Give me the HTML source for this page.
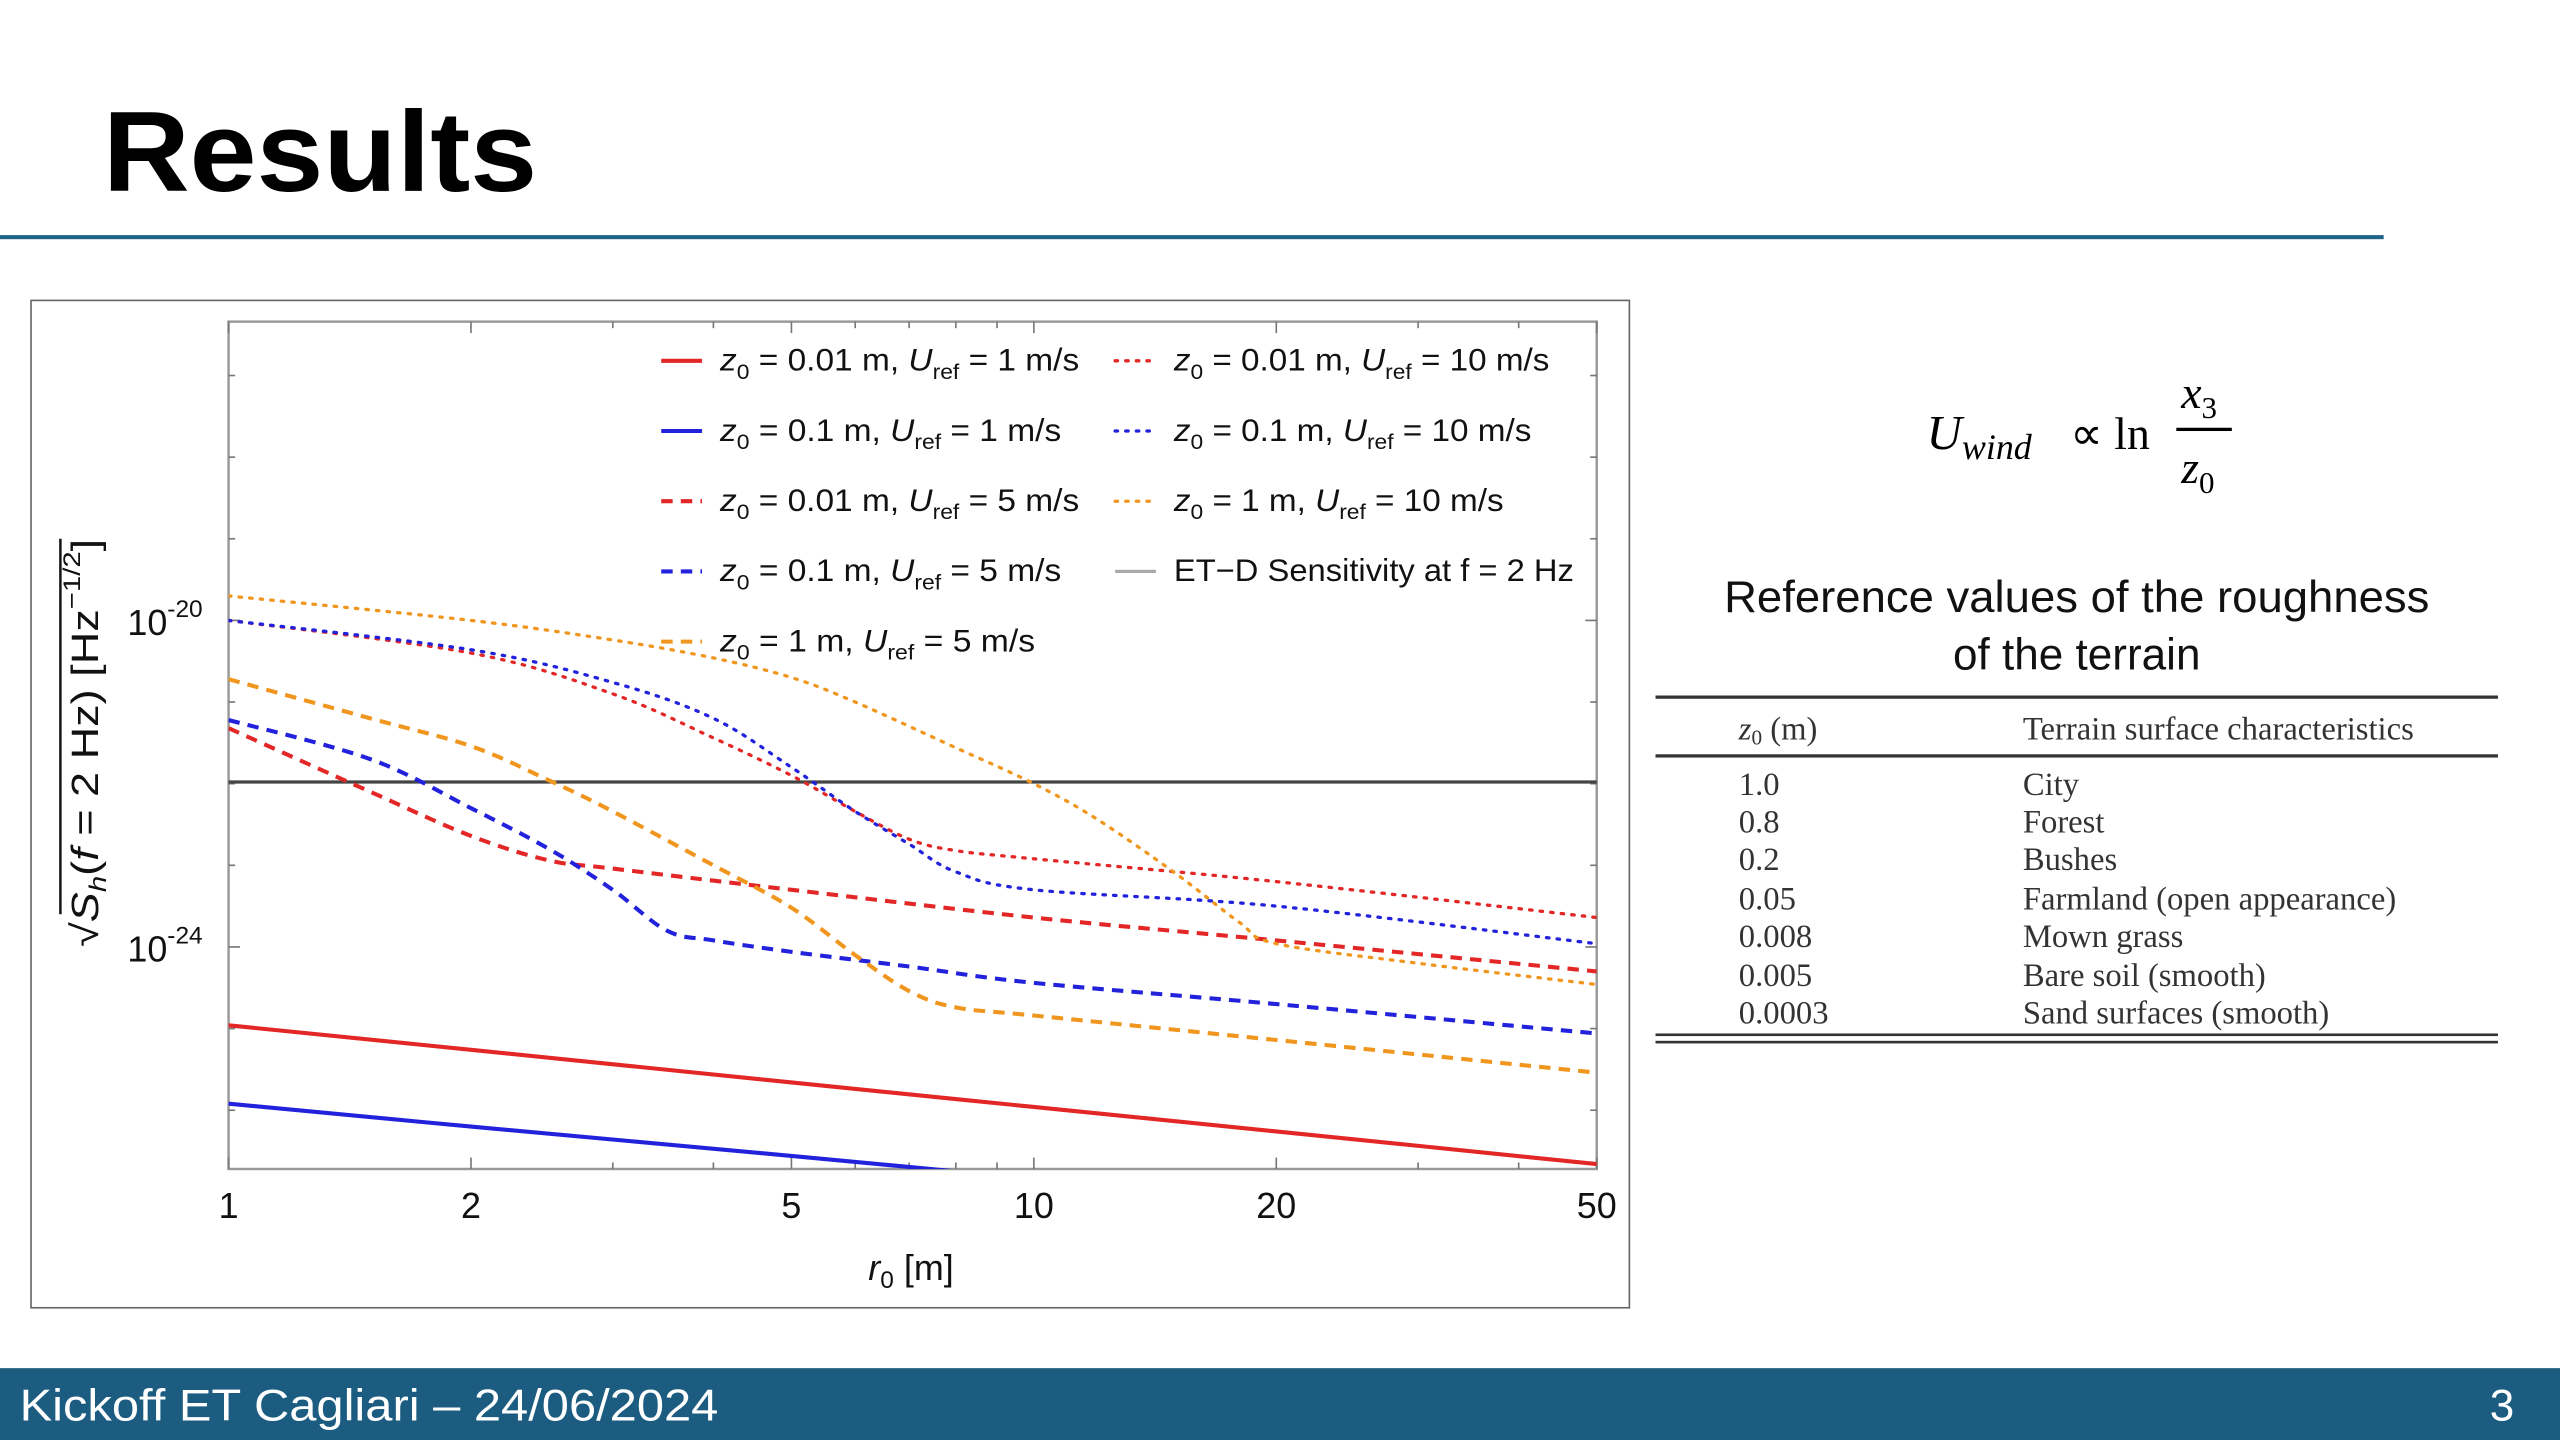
<!DOCTYPE html>
<html><head><meta charset="utf-8">
<style>
html,body{margin:0;padding:0;background:#fff;width:2560px;height:1440px;overflow:hidden}
svg{display:block}
.sans{font-family:"Liberation Sans",sans-serif}
.serif{font-family:"Liberation Serif",serif}
</style></head>
<body>
<svg id="slide" width="2560" height="1440" viewBox="0 0 1568 882" xmlns="http://www.w3.org/2000/svg">
  <text x="63" y="117" class="sans" font-size="70" font-weight="bold" fill="#000" textLength="266" lengthAdjust="spacingAndGlyphs">Results</text>
  <rect x="0" y="144" width="1460" height="2.5" fill="#1f6488"/>

  <rect x="19" y="184" width="979" height="617" fill="#fff" stroke="#666" stroke-width="1"/>
  <g id="chart"></g>

  <g class="serif" fill="#000">
    <text x="1180" y="275" font-size="30" font-style="italic">U<tspan font-size="22" dy="6">wind</tspan></text>
    <text x="1268" y="275" font-size="28">∝ ln</text>
    <text x="1336" y="250" font-size="28" font-style="italic">x<tspan font-size="19" dy="6" font-style="normal">3</tspan></text>
    <rect x="1333" y="262" width="34" height="2" fill="#000"/>
    <text x="1336" y="296" font-size="28" font-style="italic">z<tspan font-size="19" dy="6" font-style="normal">0</tspan></text>
  </g>
  <text x="1272" y="375" text-anchor="middle" class="sans" font-size="27" fill="#111" textLength="432" lengthAdjust="spacingAndGlyphs">Reference values of the roughness</text>
  <text x="1272" y="410" text-anchor="middle" class="sans" font-size="27" fill="#111">of the terrain</text>

  <g class="serif" fill="#333" font-size="20">
    <rect x="1014" y="426" width="516" height="2" fill="#333"/>
    <rect x="1014" y="462" width="516" height="2" fill="#333"/>
    <rect x="1014" y="633" width="516" height="1.6" fill="#333"/>
    <rect x="1014" y="637.5" width="516" height="1.6" fill="#333"/>
    <text x="1065" y="453"><tspan font-style="italic">z</tspan><tspan font-size="13" dy="3">0</tspan><tspan dy="-3"> (m)</tspan></text>
    <text x="1239" y="453">Terrain surface characteristics</text>
    <text x="1065" y="487">1.0</text><text x="1239" y="487">City</text>
    <text x="1065" y="510">0.8</text><text x="1239" y="510">Forest</text>
    <text x="1065" y="533">0.2</text><text x="1239" y="533">Bushes</text>
    <text x="1065" y="557">0.05</text><text x="1239" y="557">Farmland (open appearance)</text>
    <text x="1065" y="580">0.008</text><text x="1239" y="580">Mown grass</text>
    <text x="1065" y="604">0.005</text><text x="1239" y="604">Bare soil (smooth)</text>
    <text x="1065" y="627">0.0003</text><text x="1239" y="627">Sand surfaces (smooth)</text>
  </g>

  <rect x="0" y="838" width="1568" height="44" fill="#1b5c80"/>
  <text x="12" y="870" class="sans" font-size="27" fill="#fff" textLength="428" lengthAdjust="spacingAndGlyphs">Kickoff ET Cagliari – 24/06/2024</text>
  <text x="1540" y="870" text-anchor="end" class="sans" font-size="27" fill="#fff">3</text>
</svg>
<script>
// data: x = r0 [m], y = log10 of sqrt(Sh)
const xTicks = [1, 2, 5, 10, 20, 50];
const xMinor = [3, 4, 6, 7, 8, 9, 30, 40];
const yTickExps = [-20, -24];
const etdLevel = -21.98;
const rSolid = [1, 2, 5, 10, 20, 50];
const redSolid = [-24.96, -25.26, -25.66, -25.96, -26.26, -26.66];
const blueSolid = [-25.92, -26.2, -26.56, -26.84, -27.12, -27.48];
const rRedDash = [1, 1.5, 2, 2.5, 3, 5, 10, 20, 50];
const redDash = [-21.32, -22.1, -22.64, -22.94, -23.04, -23.3, -23.64, -23.92, -24.3];
const rBlueDash = [1, 1.5, 2, 2.5, 3, 3.5, 4, 5, 7, 10, 20, 50];
const blueDash = [-21.22, -21.7, -22.3, -22.8, -23.3, -23.8, -23.92, -24.06, -24.24, -24.44, -24.7, -25.06];
const rOrangeDash = [1, 1.5, 2, 2.5, 3, 4, 5, 6, 7, 8, 10, 20, 50];
const orangeDash = [-20.72, -21.2, -21.54, -21.96, -22.34, -23.0, -23.52, -24.1, -24.54, -24.74, -24.84, -25.14, -25.54];
const rDot = [1, 2, 3, 4, 5, 6, 7, 8, 10, 20, 50];
const redDot = [-20.0, -20.4, -20.9, -21.44, -21.9, -22.34, -22.68, -22.82, -22.92, -23.2, -23.64];
const blueDot = [-20.0, -20.36, -20.76, -21.2, -21.8, -22.34, -22.74, -23.08, -23.3, -23.5, -23.96];
const rOrangeDot = [1, 2, 3, 4, 5, 6, 8, 10, 12, 15, 18, 20, 30, 50];
const orangeDot = [-19.7, -20.0, -20.24, -20.46, -20.7, -21.0, -21.56, -22.0, -22.44, -23.1, -23.7, -23.96, -24.2, -24.46];

const PX0 = 140, PX1 = 978, PY0 = 197, PY1 = 716;
const NS = 'http://www.w3.org/2000/svg';
function xs(r) { return PX0 + (PX1 - PX0) * Math.log10(r) / Math.log10(50); }
function ys(e) { return 380 + (-20 - e) * 50; }
const chart = document.getElementById('chart');
function mk(tag, attrs, parent) {
  const el = document.createElementNS(NS, tag);
  for (const k in attrs) el.setAttribute(k, attrs[k]);
  (parent || chart).appendChild(el);
  return el;
}
const defs = mk('defs', {});
const cp = mk('clipPath', { id: 'plotclip' }, defs);
mk('rect', { x: PX0, y: PY0, width: PX1 - PX0, height: PY1 - PY0 }, cp);

const frame = mk('rect', { x: PX0, y: PY0, width: PX1 - PX0, height: PY1 - PY0, fill: 'none', stroke: '#999', 'stroke-width': 1.5 });



xTicks.concat(xMinor).forEach(function (r) {
  const x = xs(r), L = xTicks.indexOf(r) >= 0 ? 7 : 4;
  mk('line', { x1: x, x2: x, y1: PY1, y2: PY1 - L, stroke: '#777', 'stroke-width': 1 });
  mk('line', { x1: x, x2: x, y1: PY0, y2: PY0 + L, stroke: '#777', 'stroke-width': 1 });
});
xTicks.forEach(function (r) {
  const t = mk('text', { x: xs(r), y: 746, 'text-anchor': 'middle', 'font-size': 22, 'font-family': 'Liberation Sans, sans-serif', fill: '#111' });
  
  
  t.textContent = r;
});
for (let e = -17; e >= -26; e--) {
  const y = ys(e), L = yTickExps.indexOf(e) >= 0 ? 7 : 4;
  mk('line', { x1: PX0, x2: PX0 + L, y1: y, y2: y, stroke: '#777', 'stroke-width': 1 });
  mk('line', { x1: PX1, x2: PX1 - L, y1: y, y2: y, stroke: '#777', 'stroke-width': 1 });
}
yTickExps.forEach(function (e) {
  const t = mk('text', { x: 78, y: ys(e) + 9, 'font-size': 22, 'font-family': 'Liberation Sans, sans-serif', fill: '#111' });
  
  
  t.innerHTML = '10<tspan font-size="15" dy="-11">' + e + '</tspan>';
});
const xt = mk('text', { x: 558, y: 784, 'text-anchor': 'middle', 'font-size': 22, 'font-family': 'Liberation Sans, sans-serif', fill: '#111' });


xt.innerHTML = '<tspan font-style="italic">r</tspan><tspan font-size="15" dy="5">0</tspan><tspan dy="-5"> [m]</tspan>';
const yt = mk('text', { x: 0, y: 0, 'text-anchor': 'middle', 'font-size': 23, 'font-family': 'Liberation Sans, DejaVu Sans, sans-serif', fill: '#111', transform: 'translate(60,455) rotate(-90)', textLength: 250, lengthAdjust: 'spacingAndGlyphs' });


yt.innerHTML = '√<tspan font-style="italic">S</tspan><tspan font-size="15" dy="5" font-style="italic">h</tspan><tspan dy="-5">(</tspan><tspan font-style="italic">f</tspan> = 2 Hz)  [Hz<tspan font-size="15" dy="-11">−1/2</tspan><tspan dy="11">]</tspan>';
// sqrt overbar
mk('line', { x1: 37, x2: 37, y1: 330, y2: 560, stroke: '#111', 'stroke-width': 1.5 });

const etd = mk('line', { x1: PX0, x2: PX1, y1: ys(etdLevel), y2: ys(etdLevel), stroke: '#444', 'stroke-width': 2 });



const RED = '#e32626', BLUE = '#2222dd', ORANGE = '#f0961e';
function smoothPath(pts) {
  let d = 'M' + pts[0][0].toFixed(1) + ' ' + pts[0][1].toFixed(1);
  for (let i = 0; i < pts.length - 1; i++) {
    const p0 = pts[Math.max(0, i - 1)], p1 = pts[i], p2 = pts[i + 1], p3 = pts[Math.min(pts.length - 1, i + 2)];
    const c1x = p1[0] + (p2[0] - p0[0]) / 6, c1y = p1[1] + (p2[1] - p0[1]) / 6;
    const c2x = p2[0] - (p3[0] - p1[0]) / 6, c2y = p2[1] - (p3[1] - p1[1]) / 6;
    d += 'C' + c1x.toFixed(1) + ' ' + c1y.toFixed(1) + ' ' + c2x.toFixed(1) + ' ' + c2y.toFixed(1) + ' ' + p2[0].toFixed(1) + ' ' + p2[1].toFixed(1);
  }
  return d;
}
function series(xsArr, ysArr, color, dash, name) {
  const pts = xsArr.map(function (r, i) { return [xs(r), ys(ysArr[i])]; });
  const p = mk('path', { d: smoothPath(pts), fill: 'none', stroke: color, 'stroke-width': dash === 'dot' ? 2 : 2.5, 'stroke-dasharray': dash === 'dash' ? '7 5' : (dash === 'dot' ? '1.5 5' : 'none'), 'stroke-linecap': dash === 'dot' ? 'round' : 'butt', 'stroke-linejoin': 'round', 'clip-path': 'url(#plotclip)' });
  
  
}
series(rSolid, redSolid, RED, 'solid', 'series-z001-u1');
series(rSolid, blueSolid, BLUE, 'solid', 'series-z01-u1');
series(rRedDash, redDash, RED, 'dash', 'series-z001-u5');
series(rBlueDash, blueDash, BLUE, 'dash', 'series-z01-u5');
series(rOrangeDash, orangeDash, ORANGE, 'dash', 'series-z1-u5');
series(rDot, redDot, RED, 'dot', 'series-z001-u10');
series(rDot, blueDot, BLUE, 'dot', 'series-z01-u10');
series(rOrangeDot, orangeDot, ORANGE, 'dot', 'series-z1-u10');

const legendItems = [
  [405, 221, RED, 'solid', '0.01', '1', 220], [405, 264, BLUE, 'solid', '0.1', '1', 209],
  [405, 307, RED, 'dash', '0.01', '5', 220], [405, 350, BLUE, 'dash', '0.1', '5', 209],
  [405, 393, ORANGE, 'dash', '1', '5', 193],
  [683, 221, RED, 'dot', '0.01', '10', 230], [683, 264, BLUE, 'dot', '0.1', '10', 219],
  [683, 307, ORANGE, 'dot', '1', '10', 202]
];
legendItems.forEach(function (it) {
  const g = mk('g', {});
  
  
  mk('line', { x1: it[0], x2: it[0] + 25, y1: it[1], y2: it[1], stroke: it[2], 'stroke-width': it[3] === 'dot' ? 2 : 2.5, 'stroke-dasharray': it[3] === 'dash' ? '7 5' : (it[3] === 'dot' ? '1.5 5' : 'none'), 'stroke-linecap': it[3] === 'dot' ? 'round' : 'butt' }, g);
  const t = mk('text', { x: it[0] + 36, y: it[1] + 6, 'font-size': 19, 'font-family': 'Liberation Sans, sans-serif', fill: '#111', textLength: it[6], lengthAdjust: 'spacingAndGlyphs' }, g);
  t.innerHTML = '<tspan font-style="italic">z</tspan><tspan font-size="13" dy="5">0</tspan><tspan dy="-5"> = ' + it[4] + ' m, </tspan><tspan font-style="italic">U</tspan><tspan font-size="13" dy="5">ref</tspan><tspan dy="-5"> = ' + it[5] + ' m/s</tspan>';
});
const ge = mk('g', {});


mk('line', { x1: 683, x2: 708, y1: 350, y2: 350, stroke: '#aaa', 'stroke-width': 2 }, ge);
const te = mk('text', { x: 719, y: 356, 'font-size': 19, 'font-family': 'Liberation Sans, sans-serif', fill: '#111', textLength: 245, lengthAdjust: 'spacingAndGlyphs' }, ge);
te.textContent = 'ET−D Sensitivity at f = 2 Hz';
</script>
</body></html>
